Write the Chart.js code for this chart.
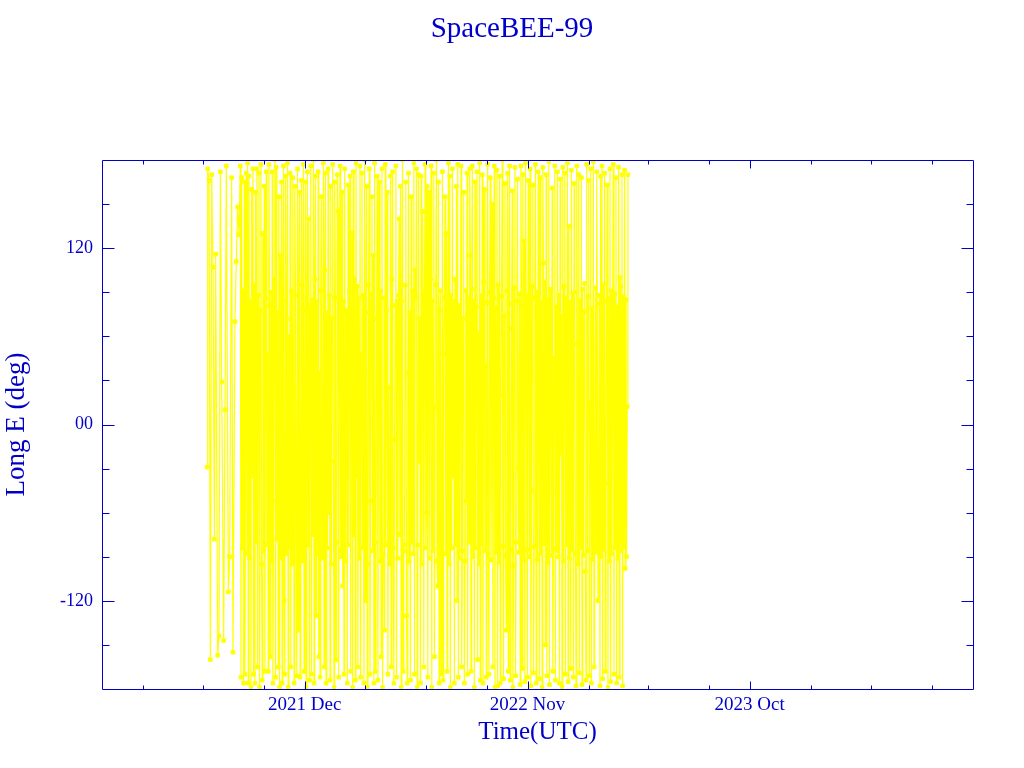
<!DOCTYPE html>
<html>
<head>
<meta charset="utf-8">
<title>SpaceBEE-99</title>
<script src="https://cdn.jsdelivr.net/npm/chart.js@4.4.1/dist/chart.umd.min.js"></script>
<style>
  html, body { margin: 0; padding: 0; background: #fff; }
  #wrap { width: 1024px; height: 768px; }
</style>
</head>
<body>
<div id="wrap"><canvas id="chart" width="1024" height="768"></canvas></div>
<script>
// x is in days counted from 2021-12-01 (UTC)

// first, sparse samples
const earlyDays = [-147, -146, -144, -142, -140, -138, -136, -134, -131, -129, -127, -125,
  -122, -120, -118, -115, -113, -110, -108, -105, -103, -101, -99];
const earlyLongE = [-29, 174, 166, -160, 170, 107, -78, 116, -157, -144, 172, 29,
  -147, 10, 176, -114, -90, 168, -155, 70, 111, 148, 129];

// then one sample a day, starting on day -97
const dailyStart = -97;
const dailyLongE = [
  176, -172, 168, -84, 91, -176, 165, -170, 12, 171, -88, 178, -176, 169, -91, 84, -179, 160, -35, 174,
  -170, 95, -176, 158, -80, 174, -165, 88, 171, -179, 78, 177, -95, -174, 130, -86, 162, -168, 86, 172,
  -82, 48, -168, 177, 81, -158, 90, -93, 172, -176, -52, 99, 180, -172, 175, -78, 76, -165, 155, -179,
  115, -91, 165, -176, 84, 176, -120, -170, 169, -88, 72, 178, -179, 60, -84, 171, -165, 91, -95, 168,
  25, -176, 162, 88, -80, -171, 174, -140, 95, 158, -172, -86, 166, -93, 78, 177, -168, -10, 165, -179,
  86, 172, -82, 140, -174, 81, 176, -170, 85, -75, 180, -176, 99, 169, -130, 84, -88, 172, -158, 35,
  -172, 91, 155, -91, -86, 178, -165, 105, 171, -176, 76, -84, 174, -60, 88, -174, 162, -95, 72, 177,
  -25, -179, 165, 86, -160, -80, 170, 145, -172, 95, 176, -86, -90, 158, -110, 84, -170, 174, -93, 78,
  12, -176, 163, -82, 91, 169, -168, 81, 130, -179, 172, -75, 99, -174, 178, -35, 94, -165, 86, -91,
  176, -172, 48, 171, -84, 88, -176, 180, -120, 76, 162, -179, -95, 95, 174, -170, -52, 89, 155, -86,
  115, -176, 178, -168, -80, 72, 169, -174, 60, 165, -93, 91, -158, 174, -179, -88, 86, -140, 177, -82,
  78, 158, -170, 25, -95, -90, 169, -165, 99, 172, -84, -176, -10, 81, 176, -172, 84, -91, 88, 140,
  -75, 162, -179, 84, 180, -168, -86, -82, 95, 165, -130, -176, 35, 171, -93, 76, -174, 155, -80, 91,
  -88, 178, -170, 105, 86, 174, -179, -82, 170, -25, 72, -176, 169, -95, 145, 88, -165, 82, 177, -84,
  -60, 162, -172, 81, 158, -91, 99, 176, -179, 84, -86, 171, -158, 12, 95, 180, -93, -110, 165, -176,
  78, 91, -170, -80, 172, -174, 48, 86, 155, -88, 130, -168, 76, 178, -95, 169, -179, 88, -84, 174,
  -35, 84, -176, 99, -82, 162, -120, 177, -172, 81, -91, 60, 176, -165, -86, 72, 158, -176, -93, 91,
  -52, 171, -170, 86, -80, 174, 115, -168, 92, 176, -90, 84, -179, 165, -84, 80, 172, -160, 62, -95,
  178, -174, 88, -81, 170, -176, 97, 160, -86, 40, -172, 83, 177, -88, -170, 90, 168, -92, -15, 150,
  -165, 86, 176, -179, 79, -87, 173, -178, 95, -94, 169, -176, 20, 87, 180, -83, -173, 74, 164, -89,
  -140, 91, 171, -168, 82, 176, -174, -85, 65, 159, -179, -96, 93, 175, -171, -80, 84, 167, -30, -87,
  89, -177, 176, 81, -166, 170, -92, 125, -175, 178, 88, -85, -172, 166, 76, -90, 174, -178, -45, 94,
  163, -169, -83, 86, 177, -176, 90, -92, 172, 5, -173, 168, -88, 83, -179, 175, 110, -81, 97, -150,
  170, -171, 85, -94, 179, -177, 92, 78, -89, 161, -168, -84, 45, 176, -174, 80, -86, 172, -90, 88,
  -176, 167, -20, 74, -179, 175, -93, 94, 171, -170, 86, -82, 178, -175, 135, -91, 83, -166, 173, -85,
  89, -172, 164, 90, -88, -178, 176, 55, -95, 170, -169, 84, -84, 168, -177, 92, -89, 77, 96, -100,
  -174, 177, -86, 87, 166, -171, 15, 174, -176, 79, -92, 179, -165, -83, 93, -87, 172, 82, -120, -81,
  88, -178, 169, -90, 176, -173, 95, -85, 171, -168, -40, 84, 163, -179, 86, -93, 174, -175, 91, -88,
  70, 177, -170, 89, -84, 168, -176, 80, -91, 175, -172, 100, 94, -86, 170, -178, 87, -83, 173, -98,
  85, -90, 12, 170
];

// axis ticks (x in days from 2021-12-01)
const xMajorDays = [0, 335, 669];
const xMajorLabels = ['2021 Dec', '2022 Nov', '2023 Oct'];
const xMinorDays = [-244, -153, -61, 90, 182, 274, 427, 516, 608, 761, 852, 943];
const yMajor = [-120, 0, 120];
const yMajorLabels = ['-120', '00', '120'];
const yMinor = [-150, -90, -60, -30, 30, 60, 90, 150];

const BLUE = '#0000c8';
const YELLOW = '#ffff00';
const SERIF = '"Liberation Serif", "Times New Roman", serif';

// frame with inward ticks on all four sides
const frameTicks = {
  id: 'frameTicks',
  afterDraw(chart) {
    const { ctx, chartArea: a, scales: { x, y } } = chart;
    ctx.save();
    ctx.strokeStyle = BLUE;
    ctx.lineWidth = 1;
    const L = Math.round(a.left) + 0.5, R = Math.round(a.right) + 0.5;
    const T = Math.round(a.top) + 0.5, B = Math.round(a.bottom) + 0.5;
    ctx.beginPath();
    ctx.rect(L, T, R - L, B - T);
    const yTick = (v, len) => {
      const py = Math.round(y.getPixelForValue(v)) + 0.5;
      ctx.moveTo(L, py); ctx.lineTo(L + len, py);
      ctx.moveTo(R, py); ctx.lineTo(R - len, py);
    };
    const xTick = (v, len) => {
      const px = Math.round(x.getPixelForValue(v)) + 0.5;
      ctx.moveTo(px, B); ctx.lineTo(px, B - len);
      ctx.moveTo(px, T); ctx.lineTo(px, T + len);
    };
    yMajor.forEach(v => yTick(v, 12));
    yMinor.forEach(v => yTick(v, 7));
    xMajorDays.forEach(v => xTick(v, 8));
    xMinorDays.forEach(v => xTick(v, 4));
    ctx.stroke();
    ctx.restore();
  }
};

const points = earlyDays.map((d, i) => ({ x: d, y: earlyLongE[i] }))
  .concat(dailyLongE.map((v, i) => ({ x: dailyStart + i, y: v })));

const ctx = document.getElementById('chart').getContext('2d');
new Chart(ctx, {
  type: 'line',
  data: {
    datasets: [{
      label: 'Long E',
      data: points,
      borderColor: YELLOW,
      borderWidth: 1.2,
      pointStyle: 'rect',
      pointRadius: 2.5,
      pointBorderWidth: 1,
      pointBackgroundColor: YELLOW,
      pointBorderColor: YELLOW,
      tension: 0
    }]
  },
  options: {
    responsive: false,
    animation: false,
    events: [],
    layout: { padding: 0 },
    plugins: {
      legend: { display: false },
      tooltip: { enabled: false },
      title: {
        display: true,
        text: 'SpaceBEE-99',
        color: BLUE,
        font: { family: SERIF, size: 29, weight: 'normal' },
        padding: { top: 12, bottom: 160 - 12 - 29 * 1.2 }
      }
    },
    scales: {
      x: {
        type: 'linear',
        min: -305,
        max: 1005,
        grid: { display: false, drawTicks: false },
        border: { display: false },
        afterBuildTicks: s => { s.ticks = xMajorDays.map(v => ({ value: v })); },
        afterFit: s => { s.height = 79; },
        ticks: {
          autoSkip: false,
          maxRotation: 0,
          padding: 5,
          color: BLUE,
          font: { family: SERIF, size: 19 },
          callback: v => xMajorLabels[xMajorDays.indexOf(v)]
        },
        title: {
          display: true,
          text: 'Time(UTC)',
          color: BLUE,
          font: { family: SERIF, size: 25 },
          padding: { top: 0, bottom: 21 }
        }
      },
      y: {
        min: -180,
        max: 180,
        grid: { display: false, drawTicks: false },
        border: { display: false },
        afterBuildTicks: s => { s.ticks = yMajor.map(v => ({ value: v })); },
        afterFit: s => { s.width = 102; },
        ticks: {
          padding: 9,
          color: BLUE,
          font: { family: SERIF, size: 18 },
          callback: v => yMajorLabels[yMajor.indexOf(v)]
        },
        title: {
          display: true,
          text: 'Long E (deg)',
          color: BLUE,
          font: { family: SERIF, size: 27 },
          padding: { top: 1, bottom: 0 }
        }
      },
      // empty right-hand axis, only keeps the 51px margin so the title stays centred on the page
      yRight: {
        position: 'right',
        min: -180,
        max: 180,
        grid: { display: false, drawTicks: false },
        border: { display: false },
        ticks: { display: false },
        afterFit: s => { s.width = 51; }
      }
    }
  },
  plugins: [frameTicks]
});
</script>
</body>
</html>
